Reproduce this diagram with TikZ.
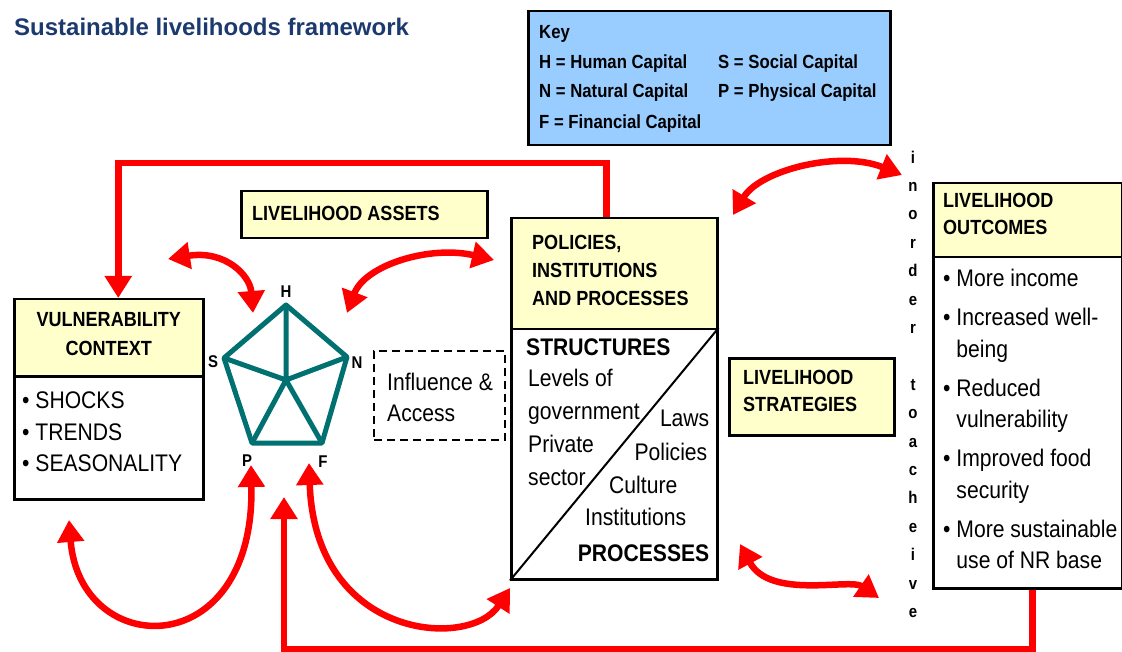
\documentclass[tikz,border=0pt]{standalone}
\usepackage{fontspec}
\setmainfont{Liberation Sans}[FakeStretch=0.88]
\newfontfamily\titlefont{Liberation Sans}
\usetikzlibrary{positioning,arrows.meta}
\definecolor{titleblue}{RGB}{28,58,110}
\definecolor{keyblue}{RGB}{153,204,255}
\definecolor{boxyellow}{RGB}{255,255,204}
\definecolor{pentateal}{RGB}{0,112,112}

\begin{document}
\begin{tikzpicture}[x=1pt,y=-1pt,
  panel/.style={draw=black, line width=2.5pt, inner sep=0pt, anchor=north west},
  ybox/.style={panel, fill=boxyellow},
  hdr/.style={inner sep=0pt, anchor=base west, align=left, font=\fontsize{20.5}{28}\selectfont\bfseries},
  txt/.style={inner sep=0pt, anchor=base west, align=left, font=\fontsize{24}{33}\selectfont},
  keytxt/.style={inner sep=0pt, anchor=base west, font=\fontsize{19}{24}\selectfont\bfseries},
  big/.style={inner sep=0pt, font=\fontsize{24}{28}\selectfont\bfseries},
  letter/.style={inner sep=0pt, font=\fontsize{17}{20}\selectfont\bfseries},
  link/.style={draw=red, line width=6.5pt, -{Triangle[width=26pt,length=22pt]}},
  twoway/.style={link, {Triangle[width=26pt,length=22pt]}-{Triangle[width=26pt,length=22pt]}},
  pent/.style={draw=pentateal, line width=5pt, line join=round}]
\useasboundingbox (0,0) rectangle (1122,652);

% title and key
\node[inner sep=0pt, anchor=base west, text=titleblue, font=\titlefont\fontsize{24}{28}\selectfont\bfseries] (title) at (14,35.6) {Sustainable livelihoods framework};
\node[panel, fill=keyblue, minimum width=362pt, minimum height=134pt] (key) at (527,10) {};
\node[keytxt] (keyhead) at ([xshift=12pt,yshift=-28.8pt]key.north west) {Key};
\node[keytxt] (keyH) at ([xshift=12pt,yshift=-58.8pt]key.north west) {H = Human Capital};
\node[keytxt] (keyS) at ([xshift=191pt,yshift=-58.8pt]key.north west) {S = Social Capital};
\node[keytxt] (keyN) at ([xshift=12pt,yshift=-87.8pt]key.north west) {N = Natural Capital};
\node[keytxt] (keyP) at ([xshift=191pt,yshift=-87.8pt]key.north west) {P = Physical Capital};
\node[keytxt] (keyF) at ([xshift=12pt,yshift=-118.8pt]key.north west) {F = Financial Capital};

% vulnerability context
\node[ybox, minimum width=189pt, minimum height=77pt] (vulhead) at (13,298) {};
\node[hdr, anchor=base, align=center, font=\fontsize{20.5}{29}\selectfont\bfseries] (vultxt) at ([yshift=-57.3pt]vulhead.north) {VULNERABILITY\\CONTEXT};
\node[panel, fill=white, minimum width=189pt, minimum height=123pt] (vulbody) at (13,375) {};
\node[txt, font=\fontsize{24}{31.5}\selectfont] (vullist) at ([xshift=9pt,yshift=-96.6pt]vulbody.north west) {\textbullet\ SHOCKS\\\textbullet\ TRENDS\\\textbullet\ SEASONALITY};

% livelihood assets
\node[ybox, minimum width=246pt, minimum height=47pt] (assets) at (240,190) {};
\node[hdr] (assetstxt) at ([xshift=12pt,yshift=-30.5pt]assets.north west) {LIVELIHOOD ASSETS};
\coordinate (H) at (286,305);
\coordinate (N) at (347,357);
\coordinate (F) at (322,443);
\coordinate (P) at (252,443);
\coordinate (S) at (224,358);
\coordinate (C) at (286,380);
\draw[pent] (H) -- (N) -- (F) -- (P) -- (S) -- cycle;
\draw[pent] (C) -- (H) (C) -- (N) (C) -- (F) (C) -- (P) (C) -- (S);
\node[letter] (labH) at (286,292) {H};
\node[letter] (labS) at (213,362) {S};
\node[letter] (labN) at (357,363) {N};
\node[letter] (labP) at (247,461) {P};
\node[letter] (labF) at (323,462) {F};

% influence and access
\node[panel, dashed, line width=2pt, dash pattern=on 8pt off 5pt, minimum width=131pt, minimum height=89pt] (influence) at (373,350) {};
\node[txt, font=\fontsize{24}{31}\selectfont] (inftxt) at ([xshift=14pt,yshift=-71.6pt]influence.north west) {Influence \&\\Access};

% policies, institutions and processes
\node[ybox, minimum width=206pt, minimum height=111pt] (polhead) at (510,217) {};
\node[hdr] (poltxt) at ([xshift=22pt,yshift=-88.3pt]polhead.north west) {POLICIES,\\INSTITUTIONS\\AND PROCESSES};
\node[panel, fill=white, minimum width=206pt, minimum height=250pt] (polbody) at (510,328) {};
\draw[line width=2pt] (polbody.south west) -- (polbody.north east);
\node[big, anchor=base west] (structs) at ([xshift=16pt,yshift=-27.6pt]polbody.north west) {STRUCTURES};
\node[txt] (structlist) at ([xshift=18pt,yshift=-157.6pt]polbody.north west) {Levels of\\government\\Private\\sector};
\node[txt, anchor=base east] (laws) at ([xshift=-9pt,yshift=-98.6pt]polbody.north east) {Laws};
\node[txt, anchor=base east] (policies) at ([xshift=-11pt,yshift=-132.6pt]polbody.north east) {Policies};
\node[txt] (culture) at ([xshift=99pt,yshift=-165.6pt]polbody.north west) {Culture};
\node[txt] (institutions) at ([xshift=75pt,yshift=-197.6pt]polbody.north west) {Institutions};
\node[big, anchor=base east] (procs) at ([xshift=-9pt,yshift=-233.6pt]polbody.north east) {PROCESSES};

% livelihood strategies
\node[ybox, minimum width=165pt, minimum height=77pt] (strat) at (728,357) {};
\node[hdr, font=\fontsize{20.5}{27}\selectfont\bfseries] (strattxt) at ([xshift=15pt,yshift=-54.3pt]strat.north west) {LIVELIHOOD\\STRATEGIES};

% in order to achieve
\node[letter, align=center, anchor=base, font=\fontsize{17}{28.4}\selectfont\bfseries] (achieve) at (913,617.4) {i\\n\\o\\r\\d\\e\\r\\[28.4pt]t\\o\\a\\c\\h\\e\\i\\v\\e};

% livelihood outcomes
\node[ybox, minimum width=189pt, minimum height=74pt] (outhead) at (932,182) {};
\node[hdr, font=\fontsize{20.5}{27}\selectfont\bfseries] (outtxt) at ([xshift=11pt,yshift=-52.3pt]outhead.north west) {LIVELIHOOD\\OUTCOMES};
\node[panel, fill=white, minimum width=189pt, minimum height=331pt] (outbody) at (932,256) {};
\node[txt, font=\fontsize{24}{31.5}\selectfont] (outlist) at ([xshift=11pt,yshift=-312.6pt]outbody.north west) {\textbullet\ More income\\[7.5pt]\textbullet\ Increased well-\\\phantom{\textbullet\ }being\\[7.5pt]\textbullet\ Reduced\\\phantom{\textbullet\ }vulnerability\\[7.5pt]\textbullet\ Improved food\\\phantom{\textbullet\ }security\\[7.5pt]\textbullet\ More sustainable\\\phantom{\textbullet\ }use of NR base};

% feedback loops
\draw[link] ([xshift=-8pt]polhead.north) |- ([xshift=9.5pt,yshift=135pt]vulhead.north) -- ([xshift=9.5pt]vulhead.north);
\coordinate (assetin) at (284,497);
\draw[link] ([xshift=4.5pt]outbody.south) -- ++(0,60) -| (assetin);

% two-way links
\coordinate (hl) at (168,259);
\coordinate (hr) at (253,313);
\draw[twoway] (hl) .. controls (225,250) and (250,275) .. (hr);
\coordinate (nl) at (347,313);
\coordinate (nr) at (494,260);
\draw[twoway] (nl) .. controls (365,265) and (430,245) .. (nr);
\coordinate (pl) at (733,215);
\coordinate (pr) at (902,175);
\draw[twoway] (pl) .. controls (760,170) and (840,150) .. (pr);
\coordinate (vl) at (69,520);
\coordinate (vr) at (251,465);
\draw[twoway] (vl) .. controls (80,660) and (255,665) .. (vr);
\coordinate (fl) at (309,463);
\coordinate (fr) at (510,588);
\draw[twoway] (fl) .. controls (315,640) and (470,650) .. (fr);
\coordinate (sl) at (740,544);
\coordinate (sr) at (879,598);
\draw[twoway] (sl) .. controls (770,600) and (850,578) .. (sr);
\end{tikzpicture}
\end{document}
